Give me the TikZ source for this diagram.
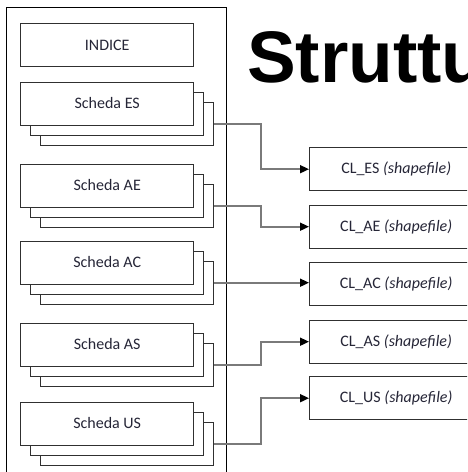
\documentclass[tikz,border=0pt]{standalone}
\usepackage{fontspec}
\setmainfont{Carlito}
\newfontfamily\titlefont{Liberation Sans}
\usetikzlibrary{arrows.meta}

\definecolor{boxline}{HTML}{303030}
\definecolor{connline}{HTML}{7A7A7A}
\definecolor{txt}{HTML}{262637}

\tikzset{
  card/.style={draw=boxline, line width=1.4pt, fill=white, minimum width=173pt,
    minimum height=43pt, inner sep=0pt, anchor=north west, font=\fontsize{16}{18}\selectfont,
    text=txt},
  clbox/.style={draw=boxline, line width=1.4pt, fill=white, minimum width=173pt,
    minimum height=43pt, inner sep=0pt, anchor=north west, font=\fontsize{16}{18}\selectfont,
    text=txt},
  conn/.style={draw=connline, line width=1.7pt,
    -{Triangle[length=9pt, width=8pt, color=black]}},
  frame/.style={draw=black, line width=0.8pt}
}

\begin{document}
\begin{tikzpicture}[x=1pt, y=-1pt]
  \useasboundingbox (0,0) rectangle (467,472);
  \clip (0,0) rectangle (467,472);

  % outer container
  \draw[frame] (6,480) -- (6,7) -- (226,7) -- (226,480);

  % title
  \node[anchor=base west, inner sep=0pt, font=\titlefont\bfseries\fontsize{73}{80}\selectfont]
    (title) at (247,82) {Struttu};

  % index box
  \node[card] (indice) at (20,23) {INDICE};

  % stacked cards: two layers behind each front card
  \foreach \nm/\lab/\y in {es/Scheda ES/82, ae/Scheda AE/164, ac/Scheda AC/241,
                           as/Scheda AS/323, us/Scheda US/402} {
    \node[card] (\nm C) at (40,\y+19.5) {};
    \node[card] (\nm B) at (30,\y+9.5) {};
    \node[card] (\nm) at (20,\y) {\raisebox{2pt}{\lab}};
  }

  % shapefile boxes
  \node[clbox] (cles) at (309,147) {\raisebox{2pt}{CL\_ES \textit{(shapefile)}}};
  \node[clbox] (clae) at (309,204.5) {\raisebox{2pt}{CL\_AE \textit{(shapefile)}}};
  \node[clbox] (clac) at (309,262) {\raisebox{2pt}{CL\_AC \textit{(shapefile)}}};
  \node[clbox] (clas) at (309,319.5) {\raisebox{2pt}{CL\_AS \textit{(shapefile)}}};
  \node[clbox] (clus) at (309,376) {\raisebox{2pt}{CL\_US \textit{(shapefile)}}};

  % connector bend column
  \coordinate (bus) at (261,0);

  \draw[conn] (esC.east) -- (esC.east -| bus) |- (cles.west);
  \draw[conn] (aeC.east) -- (aeC.east -| bus) |- (clae.west);
  \draw[conn] (acC.east) -- (acC.east -| clac.west);
  \draw[conn] (asC.east) -- (asC.east -| bus) |- (clas.west);
  \draw[conn] (usC.east) -- (usC.east -| bus) |- (clus.west);
\end{tikzpicture}
\end{document}
